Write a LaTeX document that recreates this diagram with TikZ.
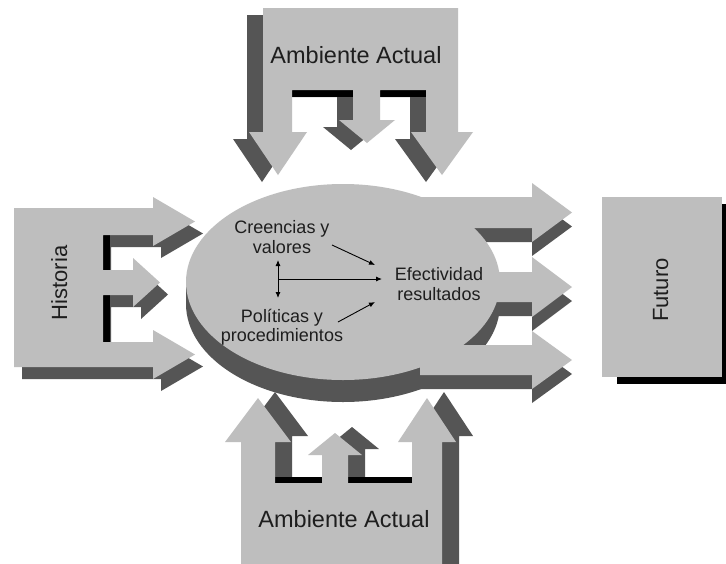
\documentclass[tikz,border=0pt]{standalone}
\usepackage{fontspec}
\setmainfont{Liberation Sans}
\usetikzlibrary{arrows.meta}
\definecolor{lg}{RGB}{190,190,190}
\definecolor{dg}{RGB}{85,85,85}
\definecolor{tx}{RGB}{30,30,30}
\tikzset{
  topE/.style={insert path={(263,8) -- (458,8) -- (458,132) -- (473,132) -- (442,175) -- (411,132) -- (426,132) -- (426,90) -- (380,90) -- (380,120) -- (395,120) -- (367,143) -- (339,120) -- (353,120) -- (353,90) -- (292,90) -- (292,132) -- (307,132) -- (278,175) -- (249,132) -- (263,132) -- cycle}},
  histE/.style={insert path={(14,208) -- (153,208) -- (153,197) -- (195,221.5) -- (153,246) -- (153,235) -- (103,235) -- (103,270) -- (133,270) -- (133,258) -- (160,282.5) -- (133,307) -- (133,295) -- (103,295) -- (103,342) -- (153,342) -- (153,330) -- (195,354.5) -- (153,379) -- (153,367) -- (14,367) -- cycle}},
  botE/.style={insert path={(241,575) -- (241,442) -- (225,442) -- (258,398) -- (291,442) -- (275,442) -- (275,483) -- (322,483) -- (322,455) -- (308,455) -- (335,433) -- (362,455) -- (348,455) -- (348,483) -- (412,483) -- (412,442) -- (398,442) -- (427,398) -- (456,442) -- (442,442) -- (442,575) -- cycle}},
  rarrows/.style={insert path={(420,197) -- (532,197) -- (532,183) -- (572,212.5) -- (532,242) -- (532,228) -- (420,228) -- cycle
     (470,272) -- (532,272) -- (532,257) -- (572,287) -- (532,317) -- (532,302) -- (470,302) -- cycle
     (420,345) -- (532,345) -- (532,331) -- (572,360) -- (532,389) -- (532,375) -- (420,375) -- cycle}},
  inner/.style={text=tx, align=center, inner sep=0pt, font=\fontsize{18}{19.5}\selectfont},
  big/.style={text=tx, inner sep=0pt, anchor=base, font=\fontsize{23.5}{26}\selectfont},
  side/.style={text=tx, inner sep=0pt, anchor=base, rotate=90, font=\fontsize{22}{24}\selectfont},
  conn/.style={line width=0.9pt, draw=black, -{Latex[length=6pt,width=5pt]}},
}
\begin{document}
\begin{tikzpicture}[x=1pt,y=-1pt]
\useasboundingbox (0,0) rectangle (726,563);
\clip (0,0) rectangle (726,563);
\fill[white] (0,0) rectangle (726,563);
% top E
\fill[dg, shift={(-16,7)}, topE];
\fill[black] (292,90) rectangle (353,97);
\fill[black] (380,90) rectangle (426,97);
\fill[lg, topE];
% Historia E
\fill[dg, shift={(8,12)}, histE];
\fill[black] (103,235) rectangle (110,270);
\fill[black] (103,295) rectangle (110,342);
\fill[lg, histE];
% bottom E
\fill[dg, shift={(17,-6)}, botE];
\fill[black] (275,477) rectangle (322,483);
\fill[black] (348,477) rectangle (412,483);
\fill[lg, botE];
% right arrows shadows
\fill[dg, shift={(0,14)}, rarrows];
% ellipse (disk)
\fill[dg] (343,304) ellipse [x radius=157, y radius=98];
\fill[dg] (186,282) rectangle (500,304);
\fill[lg] (343,282) ellipse [x radius=157, y radius=98];
% right arrows
\fill[lg, rarrows];
% Futuro box
\fill[black] (617,204) rectangle (740,384);
\fill[lg] (602,197) rectangle (722,377);
% texts
\node[big] (amb1) at (356,63) {Ambiente Actual};
\node[big] (amb2) at (344,527) {Ambiente Actual};
\node[side] (hist) at (67,283) {Historia};
\node[side] (fut) at (668,290) {Futuro};
\node[inner] (cre) at (282,237) {Creencias y\\valores};
\node[inner] (pol) at (282,327) {Políticas y\\procedimientos};
\node[inner] (efe) at (439,284) {Efectividad\\resultados};
% inner connectors
\coordinate (a1s) at (332,245);
\coordinate (a1e) at (375,265);
\coordinate (a2s) at (338,322);
\coordinate (a2e) at (375,302);
\coordinate (vt) at (278,260);
\coordinate (vb) at (278,298);
\coordinate (hs) at (278,279);
\coordinate (he) at (382,279);
\draw[conn] (a1s) -- (a1e);
\draw[conn] (a2s) -- (a2e);
\draw[conn, {Latex[length=6pt,width=5pt]}-{Latex[length=6pt,width=5pt]}] (vt) -- (vb);
\draw[conn] (hs) -- (he);
\end{tikzpicture}
\end{document}
